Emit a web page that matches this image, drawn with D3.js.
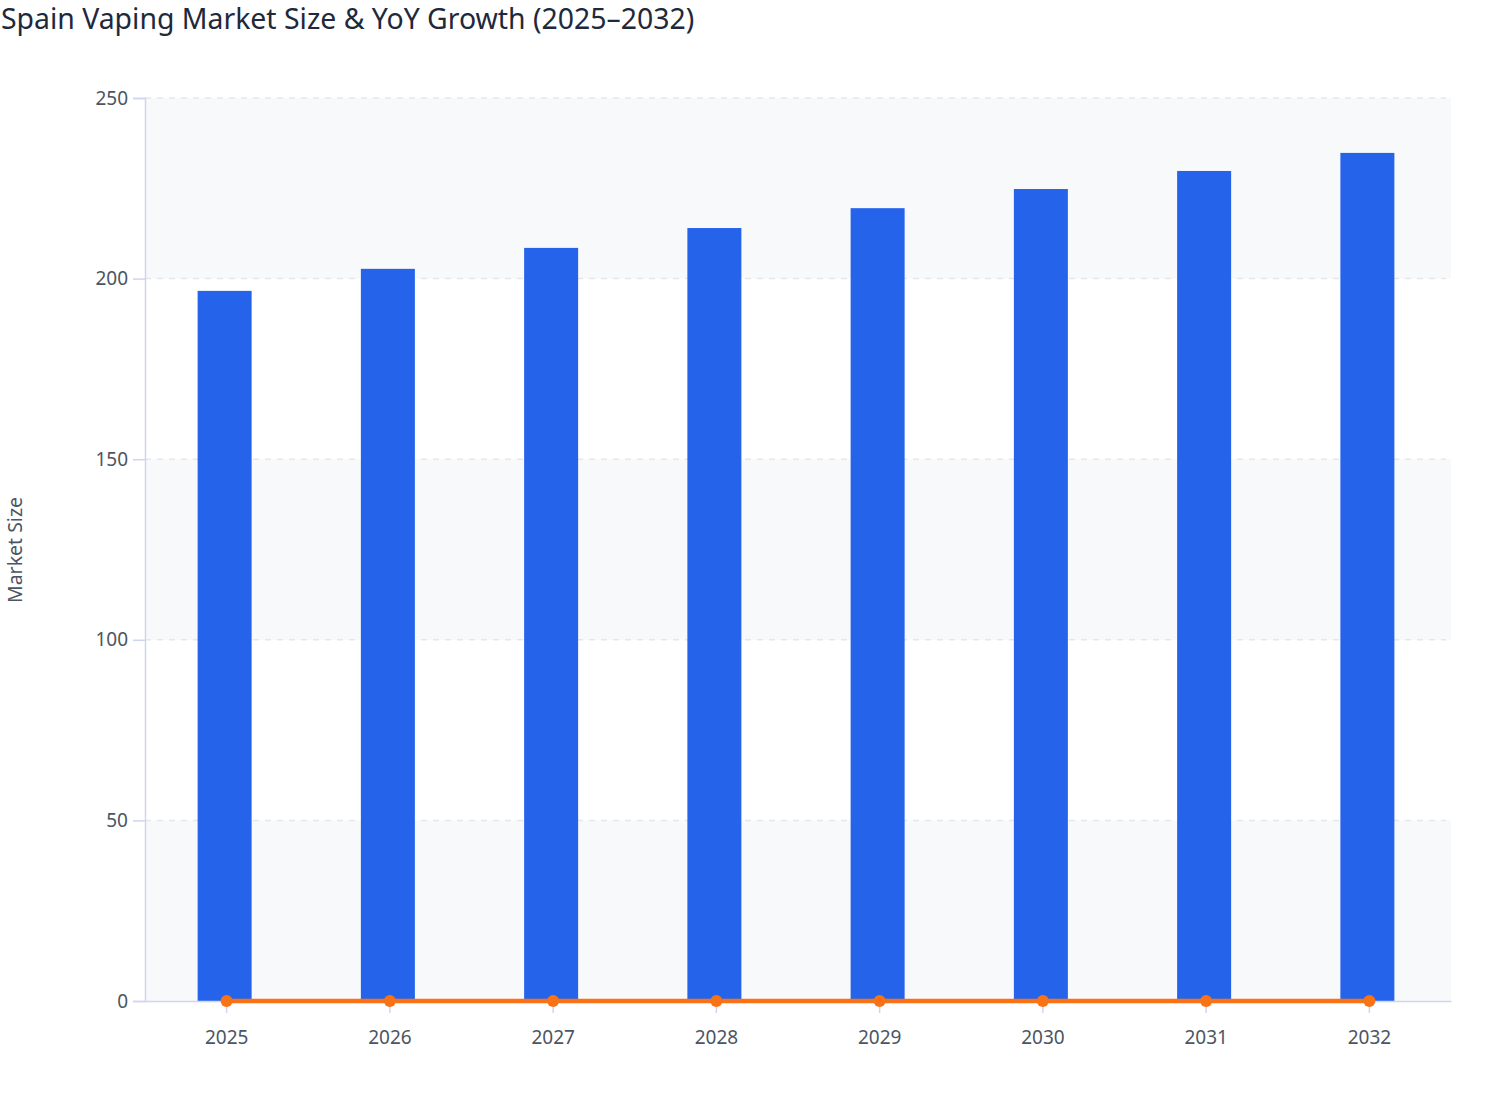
<!DOCTYPE html>
<html><head><meta charset="utf-8">
<script src="https://cdn.jsdelivr.net/npm/d3@7"></script>
<style>
body{margin:0;background:#fff;font-family:"Noto Sans","Open Sans",sans-serif;}
</style></head>
<body><svg id="c" width="1508" height="1120"></svg>
<script>
const years = ["2025","2026","2027","2028","2029","2030","2031","2032"];
const marketSize = [196.6, 202.7, 208.5, 214.0, 219.5, 224.8, 229.8, 234.8];
const yoyGrowth = [0.031, 0.031, 0.029, 0.026, 0.026, 0.024, 0.022, 0.022];
const yTicks = [0, 50, 100, 150, 200, 250];

const svg = d3.select("#c");
const m = {l:145, r:1451, t:98, b:1001};
const x = d3.scaleBand().domain(years).range([m.l, m.r]);
const y = d3.scaleLinear().domain([0, 250]).range([m.b, m.t]);
const bw = 54;

// alternating bands
const g = svg.append("g");
for (let i = 0; i < yTicks.length - 1; i += 2) {
  g.append("rect").attr("x", m.l).attr("width", m.r - m.l)
    .attr("y", y(yTicks[i+1])).attr("height", y(yTicks[i]) - y(yTicks[i+1]))
    .attr("fill", "#f8f9fb");
}
// grid
g.selectAll(".grid").data(yTicks.slice(1)).enter().append("line")
  .attr("x1", m.l).attr("x2", m.r - 5).attr("y1", d => y(d)).attr("y2", d => y(d))
  .attr("stroke", "#e5e7eb").attr("stroke-width", 1.5).attr("stroke-dasharray", "6,6");

// bars
svg.append("g").selectAll("rect").data(years).enter().append("rect")
  .attr("x", (d) => x(d) + x.bandwidth()/2 - bw/2 - 2)
  .attr("width", bw)
  .attr("y", (d,i) => y(marketSize[i]))
  .attr("height", (d,i) => y(0) - y(marketSize[i]))
  .attr("fill", "#2563eb");

// axes
const ya = svg.append("g").attr("transform", `translate(${m.l},0)`)
  .call(d3.axisLeft(y).tickValues(yTicks).tickSize(12).tickPadding(5));
ya.select(".domain").attr("stroke", "#cdd5f0").attr("stroke-width", 1.5);
ya.selectAll(".tick line").attr("stroke", "#cdd5f0").attr("stroke-width", 1.5);
ya.selectAll("text").attr("fill", "#4b5563").style("font-size", "19px").style("font-family", "Noto Sans");

const xa = svg.append("g").attr("transform", `translate(0,${m.b})`)
  .call(d3.axisBottom(x).tickSize(12).tickPadding(18).tickSizeOuter(0));
xa.select(".domain").attr("stroke", "#cdd5f0").attr("stroke-width", 1.5);
xa.selectAll(".tick line").attr("stroke", "#cdd5f0").attr("stroke-width", 1.5);
xa.selectAll("text").attr("fill", "#4b5563").style("font-size", "19px").style("font-family", "Noto Sans");

// line
const cx = d => x(d) + x.bandwidth()/2;
const line = d3.line().x((d,i) => cx(years[i])).y(d => y(d));
svg.append("path").datum(yoyGrowth).attr("d", line)
  .attr("fill", "none").attr("stroke", "#f97316").attr("stroke-width", 4.5);
svg.append("g").selectAll("circle").data(yoyGrowth).enter().append("circle")
  .attr("cx", (d,i) => cx(years[i])).attr("cy", d => y(d)).attr("r", 6)
  .attr("fill", "#f97316");

// titles
svg.append("text").attr("x", 1).attr("y", 29).text("Spain Vaping Market Size & YoY Growth (2025–2032)")
  .attr("fill", "#1e293b").style("font-size", "28.4px").style("font-family", "Noto Sans");
svg.append("text").attr("transform", "translate(22,550) rotate(-90)").attr("text-anchor", "middle")
  .text("Market Size").attr("fill", "#4b5563").style("font-size", "19.5px").style("font-family", "Noto Sans");
</script></body></html>
